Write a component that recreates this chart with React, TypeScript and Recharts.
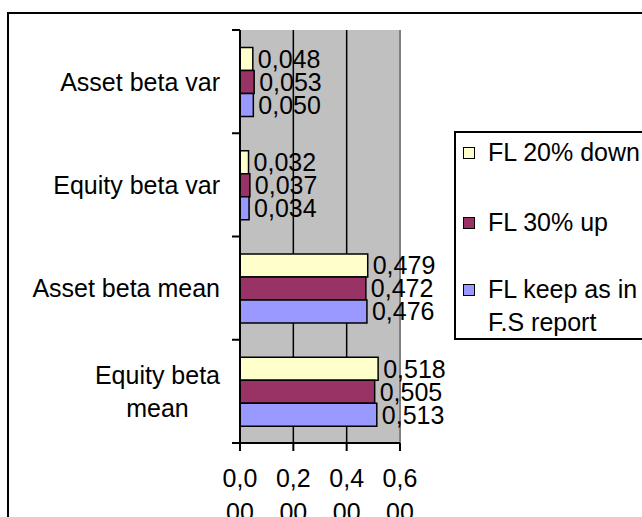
import React from "react";
import {
  BarChart,
  Bar,
  XAxis,
  YAxis,
  CartesianGrid,
  LabelList,
  Legend,
  ReferenceLine,
} from "recharts";

const categories = [
  "Asset beta var",
  "Equity beta var",
  "Asset beta mean",
  "Equity beta mean",
];
const fl20Down = [0.048, 0.032, 0.479, 0.518];
const fl30Up = [0.053, 0.037, 0.472, 0.505];
const flKeep = [0.05, 0.034, 0.476, 0.513];
const xTicks = [0, 0.2, 0.4, 0.6];
const categoryLines: Record<string, string[]> = {
  "Equity beta mean": ["Equity beta", "mean"],
};
const seriesNames = {
  down: "FL 20% down",
  up: "FL 30% up",
  keep: "FL keep as in F.S report",
};
const legendLines: Record<string, string[]> = {
  "FL keep as in F.S report": ["FL keep as in", "F.S report"],
};

const data = categories.map((name, i) => ({
  name,
  down: fl20Down[i],
  up: fl30Up[i],
  keep: flKeep[i],
}));

const FONT = "'Liberation Sans', Arial, sans-serif";
const FS = 25;
const CAT_MARGIN = 20;
const TICK_LEN = 8;

const fmt = (v: number) => v.toFixed(3).replace(".", ",");

let ctx: CanvasRenderingContext2D | null = null;
const measure = (t: string) => {
  if (!ctx) {
    ctx = document.createElement("canvas").getContext("2d");
  }
  if (!ctx) return t.length * FS * 0.5;
  ctx.font = `${FS}px 'Liberation Sans', Arial`;
  return ctx.measureText(t).width;
};

const CategoryTick = (props: any) => {
  const { x, y, payload, height, index } = props;
  const n = categories.length;
  const band = Number(height) / n;
  const axisX = x + CAT_MARGIN;
  const lines = categoryLines[payload.value] || [payload.value];
  const lh = 33;
  const w = Math.max(...lines.map(measure));
  const cx = x - w / 2;
  const start = y - ((lines.length - 1) * lh) / 2;
  const marks = [y - band / 2];
  if (index === n - 1) marks.push(y + band / 2);
  return (
    <g>
      {isFinite(band) &&
        marks.map((my, k) => (
          <line
            key={"m" + k}
            x1={axisX - TICK_LEN}
            x2={axisX}
            y1={my}
            y2={my}
            stroke="#000"
            strokeWidth={2}
          />
        ))}
      {lines.map((l, i) => (
        <text
          key={i}
          x={lines.length > 1 ? cx : x}
          y={start + i * lh}
          dy="0.36em"
          textAnchor={lines.length > 1 ? "middle" : "end"}
          fontSize={FS}
          fill="#000"
        >
          {l}
        </text>
      ))}
    </g>
  );
};

const XTick = (props: any) => {
  const { x, y, payload } = props;
  const s = fmt(payload.value);
  const l1 = s.slice(0, 3);
  const l2 = s.slice(3);
  return (
    <g>
      <text x={x} y={y + 34} textAnchor="middle" fontSize={FS} fill="#000">
        {l1}
      </text>
      <text x={x} y={y + 68} textAnchor="middle" fontSize={FS} fill="#000">
        {l2}
      </text>
    </g>
  );
};

const renderLegend = (props: any) => {
  const { payload } = props;
  return (
    <div
      style={{
        width: 230,
        height: 209,
        boxSizing: "border-box",
        border: "2px solid #000",
        background: "#fff",
        paddingTop: 3,
        paddingLeft: 7,
        fontFamily: FONT,
        fontSize: FS,
        color: "#000",
      }}
    >
      {payload.map((entry: any, i: number) => {
        const lines = legendLines[entry.value] || [entry.value];
        return (
          <div
            key={i}
            style={{
              display: "flex",
              alignItems: "flex-start",
              marginTop: i === 0 ? 0 : i === 1 ? 37 : 34,
              lineHeight: "33px",
            }}
          >
            <div
              style={{
                width: 12,
                height: 12,
                boxSizing: "border-box",
                border: "1px solid #000",
                background: entry.color,
                marginTop: 11,
                marginRight: 13,
                flex: "none",
              }}
            />
            <div style={{ whiteSpace: "nowrap" }}>
              {lines.map((l, j) => (
                <div key={j}>{l}</div>
              ))}
            </div>
          </div>
        );
      })}
    </div>
  );
};

export default function App() {
  return (
    <div
      style={{
        position: "absolute",
        left: 0,
        top: 0,
        width: 642,
        height: 517,
        overflow: "hidden",
        background: "#fff",
        fontFamily: FONT,
      }}
    >
      <div
        style={{
          position: "absolute",
          left: 7,
          top: 12,
          width: 700,
          height: 600,
          border: "2px solid #000",
          boxSizing: "border-box",
        }}
      />
      <div style={{ position: "absolute", left: 0, top: 0 }}>
        <BarChart
          width={642}
          height={517}
          data={data}
          layout="vertical"
          margin={{ top: 30, right: 242, bottom: 0, left: 0 }}
          barCategoryGap="17%"
          barGap={0}
        >
          <CartesianGrid
            horizontal={false}
            vertical={true}
            verticalValues={[0.2, 0.4]}
            stroke="#000"
            strokeWidth={1.5}
            fill="#C0C0C0"
            fillOpacity={1}
            yAxisId="cat"
          />
          <XAxis
            type="number"
            domain={[0, 0.6]}
            ticks={xTicks}
            interval={0}
            height={74}
            axisLine={{ stroke: "#000", strokeWidth: 2 }}
            tickLine={{ stroke: "#000", strokeWidth: 2 }}
            tickSize={TICK_LEN}
            tick={<XTick />}
            allowDataOverflow
          />
          <YAxis
            yAxisId="num"
            type="number"
            domain={[0, 4]}
            hide
          />
          <YAxis
            yAxisId="cat"
            type="category"
            dataKey="name"
            width={240}
            axisLine={{ stroke: "#000", strokeWidth: 2 }}
            tickLine={false}
            tickSize={0}
            tickMargin={CAT_MARGIN}
            interval={0}
            tick={<CategoryTick />}
          />
          <ReferenceLine
            yAxisId="num"
            y={4}
            stroke="#808080"
            strokeWidth={2}
          />
          <ReferenceLine
            yAxisId="cat"
            x={0.6}
            stroke="#808080"
            strokeWidth={2}
          />
          <Legend
            layout="vertical"
            align="center"
            verticalAlign="middle"
            content={renderLegend}
            wrapperStyle={{ position: "absolute", left: 454, top: 131, width: 230, height: 209 }}
          />
          <Bar
            yAxisId="cat"
            dataKey="down"
            name={seriesNames.down}
            fill="#FFFFCC"
            stroke="#000"
            strokeWidth={1.5}
            isAnimationActive={false}
          >
            <LabelList
              dataKey="down"
              position="right"
              offset={5}
              formatter={(v: any) => fmt(Number(v))}
              fill="#000"
              fontSize={FS}
            />
          </Bar>
          <Bar
            yAxisId="cat"
            dataKey="up"
            name={seriesNames.up}
            fill="#993366"
            stroke="#000"
            strokeWidth={1.5}
            isAnimationActive={false}
          >
            <LabelList
              dataKey="up"
              position="right"
              offset={5}
              formatter={(v: any) => fmt(Number(v))}
              fill="#000"
              fontSize={FS}
            />
          </Bar>
          <Bar
            yAxisId="cat"
            dataKey="keep"
            name={seriesNames.keep}
            fill="#9999FF"
            stroke="#000"
            strokeWidth={1.5}
            isAnimationActive={false}
          >
            <LabelList
              dataKey="keep"
              position="right"
              offset={5}
              formatter={(v: any) => fmt(Number(v))}
              fill="#000"
              fontSize={FS}
            />
          </Bar>
        </BarChart>
      </div>
    </div>
  );
}
